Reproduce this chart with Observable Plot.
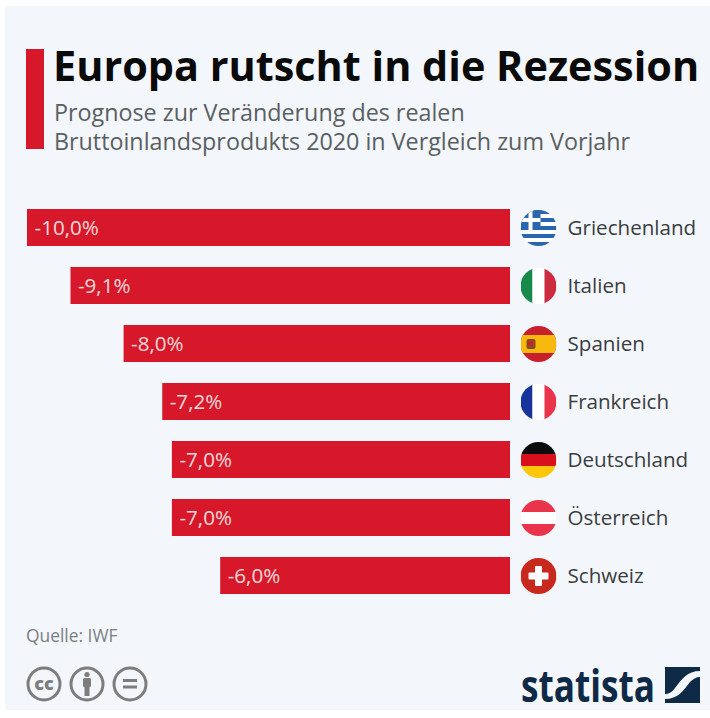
<!DOCTYPE html>
<html lang="de"><head><meta charset="utf-8">
<script src="https://cdn.jsdelivr.net/npm/d3@7"></script>
<script src="https://cdn.jsdelivr.net/npm/@observablehq/plot@0.6"></script>
<style>
html,body{margin:0;padding:0;background:#fff;width:710px;height:718px;overflow:hidden}
#panel{position:absolute;left:5px;top:6px;width:705px;height:704px;background:#f3f6fa}
#chart{position:absolute;left:0;top:0}
#chart svg{background:transparent}
.t{position:absolute;font-family:"Open Sans",sans-serif;white-space:nowrap}
#bar{position:absolute;left:26px;top:49px;width:18px;height:100px;background:#d7182a}
#title{left:53px;top:39px;font-size:41.4px;font-weight:700;color:#0a0a0a;line-height:52px}
#sub{left:54px;top:98px;font-size:23.3px;color:#5a5f63;line-height:29px}
#src{left:26px;top:624px;font-size:17.4px;color:#7a7f83;line-height:22px}
.abs{position:absolute}
</style></head><body>
<div id="panel"></div>
<div id="bar"></div>
<div class="t" id="title">Europa rutscht in die Rezession</div>
<div class="t" id="sub">Prognose zur Veränderung des realen<br>Bruttoinlandsprodukts 2020 in Vergleich zum Vorjahr</div>
<div id="chart"></div>
<div class="t" id="src">Quelle: IWF</div>
<svg class="abs" style="left:24px;top:666px" width="130" height="38" viewBox="0 0 130 38">
  <g fill="none" stroke="#7d7d7d" stroke-width="3">
    <circle cx="20" cy="18" r="16"/><circle cx="63" cy="18" r="16"/><circle cx="106" cy="18" r="16"/>
  </g>
  <text x="20" y="24" text-anchor="middle" font-family="Open Sans" font-weight="800" font-size="18" fill="#7d7d7d">cc</text>
  <g fill="#7d7d7d">
    <circle cx="63" cy="8.5" r="2.6"/><rect x="59" y="12" width="8" height="9" rx="1.5"/><rect x="60.5" y="20" width="5" height="10"/>
    <rect x="99" y="13" width="14" height="3"/><rect x="99" y="19.5" width="14" height="3"/>
  </g>
</svg>
<svg class="abs" style="left:515px;top:655px" width="195" height="55" viewBox="0 0 195 55">
  <text x="6" y="47" textLength="134" lengthAdjust="spacingAndGlyphs" font-family="Liberation Sans Narrow, Open Sans" font-weight="700" font-size="45" fill="#0f2a47">statista</text>
  <path d="M150 12H185V16C172 16 167 24 160 33C157 37 154 39 150 39Z" fill="#0f2a47"/>
  <path d="M185 22V48H150V44C163 44 168 36 175 27C178 24 181 22 185 22Z" fill="#0f2a47"/>
</svg>
<script>
const countries = ["Griechenland","Italien","Spanien","Frankreich","Deutschland","Österreich","Schweiz"];
const values = [-10.0,-9.1,-8.0,-7.2,-7.0,-7.0,-6.0];
const flagArt = [
  '<rect width="36" height="36" fill="#fff"/><g fill="#2a66ad"><rect width="36" height="4"/><rect y="8" width="36" height="4"/><rect y="16" width="36" height="4"/><rect y="24" width="36" height="4"/><rect y="32" width="36" height="4"/><rect width="20" height="20"/></g><rect x="8" width="4" height="20" fill="#fff"/><rect y="8" width="20" height="4" fill="#fff"/>',
  '<rect width="12" height="36" fill="#17894a"/><rect x="12" width="12" height="36" fill="#fff"/><rect x="24" width="12" height="36" fill="#cd2b3f"/>',
  '<rect width="36" height="36" fill="#c8202c"/><rect y="9" width="36" height="18" fill="#f8b90f"/><rect x="6" y="13" width="9" height="10" rx="2" fill="#8a4a1c"/><rect x="8" y="15" width="5" height="4" fill="#c8202c"/>',
  '<rect width="12" height="36" fill="#17349b"/><rect x="12" width="12" height="36" fill="#fff"/><rect x="24" width="12" height="36" fill="#e9344b"/>',
  '<rect width="36" height="12" fill="#0c0c0c"/><rect y="12" width="36" height="12" fill="#d8101c"/><rect y="24" width="36" height="12" fill="#fcc70a"/>',
  '<rect width="36" height="12" fill="#e9344b"/><rect y="12" width="36" height="12" fill="#fff"/><rect y="24" width="36" height="12" fill="#e9344b"/>',
  '<rect width="36" height="36" fill="#c9281f"/><rect x="14.5" y="8" width="7" height="20" rx="1" fill="#fff"/><rect x="8" y="14.5" width="20" height="7" rx="1" fill="#fff"/>'
];
const flags = flagArt.map(a => "data:image/svg+xml," + encodeURIComponent('<svg xmlns="http://www.w3.org/2000/svg" viewBox="0 0 36 36" width="144" height="144">' + a + '</svg>'));
const rows = countries.map((c,i)=>({country:c,value:values[i],flag:flags[i]}));
const fmt = v => v.toFixed(1).replace(".",",") + "%";
const plot = Plot.plot({
  width:710, height:718,
  style:{background:"transparent",fontFamily:"Open Sans"},
  x:{domain:[-10,0],range:[27,510],axis:null},
  y:{domain:countries,range:[188,615],padding:0.362,align:0.5,axis:null},
  marks:[
    Plot.barX(rows,{x:"value",y:"country",fill:"#d7182a"}),
    Plot.text(rows,{x:"value",y:"country",text:d=>fmt(d.value),textAnchor:"start",dx:7,fill:"#f6d9d9",fontSize:20.6}),
    Plot.image(rows,{x:()=>0,y:"country",src:"flag",r:18,dx:28}),
    Plot.text(rows,{x:()=>0,y:"country",text:"country",textAnchor:"start",dx:57,fill:"#3a3d40",fontSize:20.6}),
  ]
});
document.getElementById("chart").append(plot);
</script>
</body></html>
